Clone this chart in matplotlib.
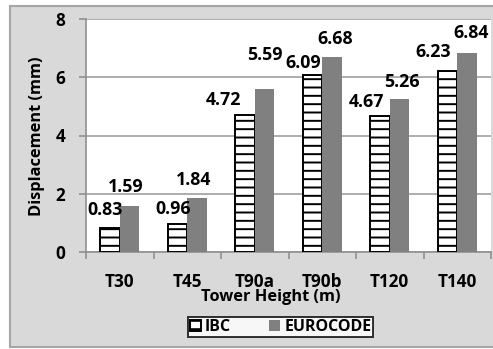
import matplotlib
matplotlib.use("Agg")
import matplotlib.pyplot as plt
import numpy as np
from matplotlib.patches import Rectangle

plt.rcParams['font.family'] = ['Open Sans', 'DejaVu Sans']
plt.rcParams['font.weight'] = 'bold'
plt.rcParams['hatch.linewidth'] = 1.4

categories = ["T30", "T45", "T90a", "T90b", "T120", "T140"]
ibc = [0.83, 0.96, 4.72, 6.09, 4.67, 6.23]
eurocode = [1.59, 1.84, 5.59, 6.68, 5.26, 6.84]
series_names = ["IBC", "EUROCODE"]
y_ticks = [0, 2, 4, 6, 8]

# label offsets from each bar top, in pixels (dx, dy)
ibc_offsets = [(-5, 18), (-4, 15), (-21, 15), (-9, 12), (-13, 14), (-14, 19)]
euro_offsets = [(-4, 19), (-3, 18), (0, 34), (3, 18), (2, 17), (4, 20)]

W, H = 493, 349
fig = plt.figure(figsize=(W / 100, H / 100), dpi=100)
fig.patch.set_facecolor("white")

# chart area panel
panel = Rectangle((10 / W, 2 / H), 2.0, 341 / H, transform=fig.transFigure,
                  facecolor="#d9d9d9", edgecolor="#a6a6a6", linewidth=1.5,
                  zorder=0)
fig.patches.append(panel)

ax = fig.add_axes([86 / W, 1 - 252 / H, (491 - 86) / W, (252 - 19) / H])
ax.set_facecolor("white")
ax.set_zorder(1)

x = np.arange(len(categories))
w = 0.289
b1 = ax.bar(x - w / 2, ibc, w, facecolor="white", edgecolor="black",
            hatch="--", linewidth=1.4, label=series_names[0], zorder=3)
b2 = ax.bar(x + w / 2, eurocode, w, facecolor="#808080", edgecolor="#808080",
            linewidth=0, label=series_names[1], zorder=3)

for rect, v, off in zip(b1, ibc, ibc_offsets):
    ax.annotate(f"{v:.2f}", (rect.get_x() + rect.get_width() / 2, v),
                xytext=off, textcoords="offset pixels", ha="center",
                va="center", fontsize=12.8, fontweight="bold", zorder=5)
for rect, v, off in zip(b2, eurocode, euro_offsets):
    ax.annotate(f"{v:.2f}", (rect.get_x() + rect.get_width() / 2, v),
                xytext=off, textcoords="offset pixels", ha="center",
                va="center", fontsize=12.8, fontweight="bold", zorder=5)

ax.set_xlim(-0.5, len(categories) - 0.5)
ax.set_ylim(0, 8)
ax.set_yticks(y_ticks)
ax.yaxis.grid(True, color="#a0a0a0", linewidth=1.2, zorder=0)
ax.set_axisbelow(True)

for s in ["top", "right"]:
    ax.spines[s].set_visible(False)
for s in ["left", "bottom"]:
    ax.spines[s].set_color("#909090")
    ax.spines[s].set_linewidth(1.2)

ax.set_xticks(x)
ax.set_xticklabels(categories, fontweight="bold")
ax.set_xticks(np.arange(-0.5, len(categories)), minor=True)
ax.tick_params(axis="x", which="major", length=0, pad=15, labelsize=12.3)
ax.tick_params(axis="x", which="minor", length=5, width=1.2, color="#909090")
ax.tick_params(axis="y", length=5, width=1.2, color="#909090", pad=10,
               labelsize=12.3)
for t in ax.get_xticklabels() + ax.get_yticklabels():
    t.set_fontweight("bold")

fig.text(270.5 / W, 1 - 297 / H, "Tower Height (m)", ha="center", va="center",
         fontsize=11.8, fontweight="bold")
fig.text(37 / W, 1 - 136.5 / H, "Displacement (mm)", ha="center",
         va="center", rotation=90, fontsize=11.8, fontweight="bold")

leg = fig.legend(handles=[b1, b2], loc="center",
                 bbox_to_anchor=(280.5 / W, 1 - 327 / H), ncol=2,
                 frameon=True, fancybox=False, edgecolor="black",
                 handlelength=0.7, handleheight=0.7, handletextpad=0.25,
                 columnspacing=2.4, borderpad=0.12, borderaxespad=0,
                 prop={"weight": "bold", "size": 11.5})
leg.get_frame().set_linewidth(1.4)
leg.get_frame().set_facecolor("white")

fig.savefig("out.png", dpi=100)
